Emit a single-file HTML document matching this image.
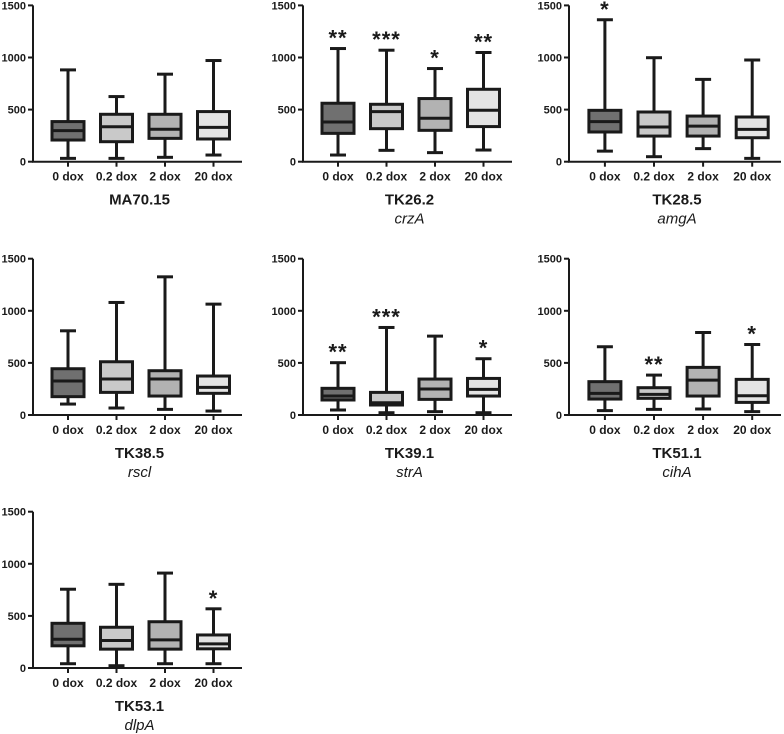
<!DOCTYPE html>
<html><head><meta charset="utf-8"><style>
html,body{margin:0;padding:0;background:#fff;}
svg{display:block;font-family:"Liberation Sans",Arial,sans-serif;}
</style></head><body>
<svg id="c" width="784" height="734" viewBox="0 0 784 734"></svg>
<script>
const categories = ["0 dox","0.2 dox","2 dox","20 dox"];
const strains = ["MA70.15","TK26.2","TK28.5","TK38.5","TK39.1","TK51.1","TK53.1"];
const genes = ["","crzA","amgA","rscl","strA","cihA","dlpA"];
const yTicks = [0,500,1000,1500];
// per panel: [min,q1,median,q3,max] for each category
const mins = [[32,32,42,64],[64,109,87,112],[102,48,125,32],[105,67,54,38],[48,22,32,22],[42,54,58,32],[41,22,41,41]];
const q1s = [[208,192,224,218],[272,317,301,337],[285,246,246,230],[176,217,182,208],[144,96,150,182],[153,160,182,121],[213,181,181,184]];
const medians = [[298,336,311,330],[381,481,417,494],[384,333,342,310],[326,345,345,265],[182,118,249,246],[208,198,335,185],[276,264,270,232]];
const q3s = [[385,455,455,481],[561,551,606,695],[493,477,438,429],[444,511,425,374],[256,217,345,351],[320,262,457,342],[429,391,444,317]];
const maxs = [[881,625,840,971],[1086,1070,894,1048],[1362,998,790,976],[808,1080,1326,1064],[502,840,757,540],[655,383,792,677],[756,803,911,568]];
const stars = [["","","",""],["**","***","*","**"],["*","","",""],["","","",""],["**","***","","*"],["","**","","*"],["","","","*"]];

const fills = ["#707070","#c9c9c9","#b2b2b2","#e4e4e4"];
const colX = [33,303,569], colW = [209,209,212];
const rowZero = [161.7,415,668];
const pxPer = 0.1042;
const NS = "http://www.w3.org/2000/svg";
const svg = document.getElementById('c');
function mk(tag, attrs, parent){const e=document.createElementNS(NS,tag);for(const k in attrs)e.setAttribute(k,attrs[k]);(parent||svg).appendChild(e);return e;}

strains.forEach((name,p)=>{
  const col = p%3, row = Math.floor(p/3);
  const x0 = colX[col], w = colW[col], z = rowZero[row];
  const y = v => z - v*pxPer;
  const xc = i => x0 + 35 + i*48.5 + (w-209)*0.6*(i/3+0.5);
  const g = mk('g',{});
  
  
  const ax = mk('path',{d:`M${x0} ${y(1500)} V${z} H${x0+w}`,fill:'none',stroke:'#1a1a1a','stroke-width':2},g);
  
  
  yTicks.forEach(t=>{
    mk('line',{x1:x0-5,x2:x0,y1:y(t),y2:y(t),stroke:'#1a1a1a','stroke-width':2},g);
    const tl = mk('text',{x:x0-7,y:y(t)+4,'text-anchor':'end','font-size':11,'font-weight':'bold',fill:'#1a1a1a'},g);
    tl.textContent = t;
    
    
  });
  categories.forEach((c,i)=>{
    const cx = xc(i), hw = 16, cap = 8;
    mk('line',{x1:cx,x2:cx,y1:y(maxs[p][i]),y2:y(mins[p][i]),stroke:'#1a1a1a','stroke-width':3},g);
    mk('line',{x1:cx-cap,x2:cx+cap,y1:y(maxs[p][i]),y2:y(maxs[p][i]),stroke:'#1a1a1a','stroke-width':3},g);
    mk('line',{x1:cx-cap,x2:cx+cap,y1:y(mins[p][i]),y2:y(mins[p][i]),stroke:'#1a1a1a','stroke-width':3},g);
    const b = mk('rect',{x:cx-hw,y:y(q3s[p][i]),width:hw*2,height:y(q1s[p][i])-y(q3s[p][i]),fill:fills[i],stroke:'#1a1a1a','stroke-width':3},g);
    
    
    mk('line',{x1:cx-hw,x2:cx+hw,y1:y(medians[p][i]),y2:y(medians[p][i]),stroke:'#1a1a1a','stroke-width':3},g);
    mk('line',{x1:cx,x2:cx,y1:z,y2:z+5,stroke:'#1a1a1a','stroke-width':2},g);
    const xl = mk('text',{x:cx,y:z+19,'text-anchor':'middle','font-size':12,'font-weight':'bold',fill:'#1a1a1a'},g);
    xl.textContent = c;
    
    
    if(stars[p][i]){
      const s = mk('text',{x:cx,y:y(maxs[p][i])-3,'text-anchor':'middle','font-size':22,'font-weight':'bold',fill:'#1a1a1a','letter-spacing':'1'},g);
      s.textContent = stars[p][i];
      
      
    }
  });
  const t = mk('text',{x:x0+w/2+2,y:z+43,'text-anchor':'middle','font-size':15,'font-weight':'bold',fill:'#1a1a1a'},g);
  t.textContent = name;
  
  
  if(genes[p]){
    const gt = mk('text',{x:x0+w/2+2,y:z+62,'text-anchor':'middle','font-size':15,'font-style':'italic',fill:'#1a1a1a'},g);
    gt.textContent = genes[p];
    
    
  }
});
</script>
</body></html>
